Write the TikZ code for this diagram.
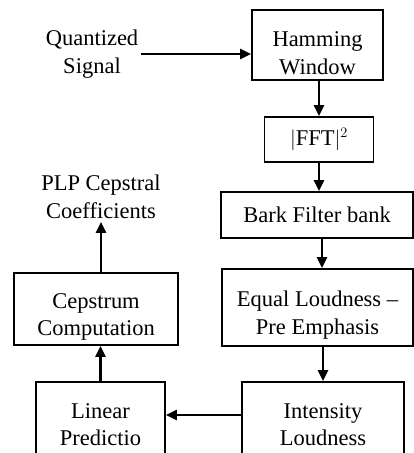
\documentclass[tikz,border=0pt]{standalone}
\usepackage{fontspec}
\setmainfont{Liberation Serif}
\usetikzlibrary{arrows.meta}
\newcommand{\lowstrut}{\rule{0pt}{31pt}}
\begin{document}
\begin{tikzpicture}[x=1pt,y=-1pt,
  box/.style={draw,line width=1.8pt,align=center,inner sep=0pt,font=\fontsize{22.5}{27.5}\selectfont},
  txt/.style={align=center,inner sep=3pt,font=\fontsize{22.5}{27.5}\selectfont},
  arr/.style={line width=2.2pt,-{Triangle[length=11pt,width=10pt]}}]
\clip (0,0) rectangle (414,453);
\node[txt] (qs) at (92,54) {Quantized\\Signal};
\node[box,minimum width=131,minimum height=70] (ham) at (317.5,45) {\lowstrut Hamming\\Window};
\node[box,minimum width=109,minimum height=45] (fft) at (319,139.5) {$|$FFT$|^2$};
\node[box,minimum width=192,minimum height=46] (bark) at (317,215) {Bark Filter bank};
\node[box,minimum width=191,minimum height=77] (equal) at (317.5,307.5) {\lowstrut Equal Loudness –\\Pre Emphasis};
\node[box,minimum width=162,minimum height=85] (int) at (323,424.5) {Intensity\\Loudness};
\node[box,minimum width=129,minimum height=85] (lin) at (100.5,424.5) {Linear\\Predictio};
\node[box,minimum width=164,minimum height=72] (cep) at (96,309) {\lowstrut Cepstrum\\Computation};
\node[txt] (plp) at (101,197) {PLP Cepstral\\Coefficients};
\draw[arr] (qs.east) -- (qs.east -| ham.west);
\draw[arr] (fft.north |- ham.south) -- (fft.north);
\draw[arr] (fft.south) -- (fft.south |- bark.north);
\draw[arr] ([xshift=5pt]bark.south) -- ([xshift=5pt]bark.south |- equal.north);
\draw[arr] (int.north |- equal.south) -- (int.north);
\draw[arr] ([yshift=9.5pt]int.west) -- ([yshift=9.5pt]lin.east);
\draw[arr] (lin.north) -- (lin.north |- cep.south);
\draw[arr] (plp.south |- cep.north) -- (plp.south);
\end{tikzpicture}
\end{document}
